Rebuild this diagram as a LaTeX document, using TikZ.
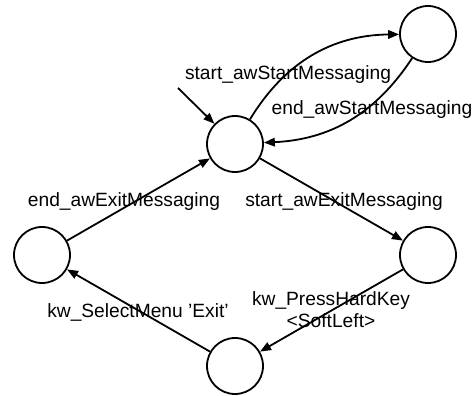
\documentclass[tikz,border=0pt]{standalone}
\usepackage{fontspec}
\setmainfont{Liberation Sans}
\usetikzlibrary{arrows.meta}
\begin{document}
\begin{tikzpicture}[x=1pt,y=-1pt,
  state/.style={draw,circle,line width=1.8pt,minimum size=56pt,inner sep=0pt},
  trans/.style={line width=1.8pt,-{Triangle[length=11pt,width=8.5pt]}},
  lbl/.style={inner sep=0pt,font=\fontsize{19.2}{22}\selectfont,align=center}]
\useasboundingbox (0,0) rectangle (474,396);
% states
\node[state] (s0) at (235,144) {};
\node[state] (s1) at (428,34) {};
\node[state] (s2) at (428,255) {};
\node[state] (s3) at (235,366) {};
\node[state] (s4) at (42,255) {};
\coordinate (init) at (178,88);
% transitions
\draw[trans] (init) -- (s0);
\draw[trans] (s0) to[bend left=29] (s1);
\draw[trans] (s1) to[bend left=27] (s0);
\draw[trans] (s0) -- (s2);
\draw[trans] (s2) -- (s3);
\draw[trans] (s3) -- (s4);
\draw[trans] (s4) -- (s0);
% labels
\node[lbl] (l1) at (288,75) {start\_awStartMessaging};
\node[lbl] (l2) at (372,110) {end\_awStartMessaging};
\node[lbl] (l3) at (124,202) {end\_awExitMessaging};
\node[lbl] (l4) at (344,202) {start\_awExitMessaging};
\node[lbl] (l5) at (138,312) {kw\_SelectMenu 'Exit'};
\node[lbl] (l6) at (331,310) {kw\_PressHardKey\\<SoftLeft>};
\end{tikzpicture}
\end{document}
